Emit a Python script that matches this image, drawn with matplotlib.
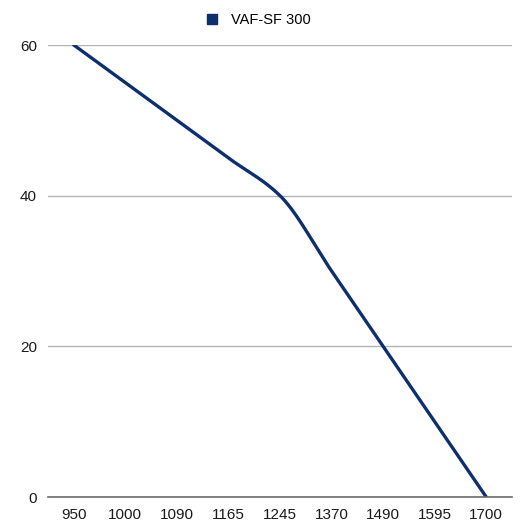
import numpy as np
import matplotlib
matplotlib.use('Agg')
import matplotlib.pyplot as plt
from matplotlib.lines import Line2D

plt.rcParams['font.family'] = ['Liberation Sans', 'DejaVu Sans']

categories = ['950', '1000', '1090', '1165', '1245', '1370', '1490', '1595', '1700']
values = [60, 55, 50, 45, 40, 30, 20, 10, 0]
series_name = 'VAF-SF 300'
yticks = [0, 20, 40, 60]

color = '#0e2f6e'


# cubic hermite curve (pchip-like slopes) just for drawing a smooth line
def smooth(x, y, n=400):
    x = np.asarray(x, float)
    y = np.asarray(y, float)
    h = np.diff(x)
    dl = np.diff(y) / h
    m = np.zeros(len(x))
    m[0] = dl[0]
    m[-1] = dl[-1]
    for i in range(1, len(x) - 1):
        if dl[i - 1] * dl[i] > 0:
            m[i] = 2 / (1 / dl[i - 1] + 1 / dl[i])
    xs = np.linspace(x[0], x[-1], n)
    ys = np.empty_like(xs)
    for j, t in enumerate(xs):
        i = min(np.searchsorted(x, t, side='right') - 1, len(x) - 2)
        s = (t - x[i]) / h[i]
        h00 = 2 * s**3 - 3 * s**2 + 1
        h10 = s**3 - 2 * s**2 + s
        h01 = -2 * s**3 + 3 * s**2
        h11 = s**3 - s**2
        ys[j] = h00 * y[i] + h10 * h[i] * m[i] + h01 * y[i + 1] + h11 * h[i] * m[i + 1]
    return xs, ys


fig = plt.figure(figsize=(5.23, 5.27), dpi=100)
ax = fig.add_axes([0.0918, 0.0569, 0.8872, 0.8577])

xi = np.arange(len(categories))
xs, ys = smooth(xi, values)
ax.plot(xs, ys, color=color, lw=2.4, solid_capstyle='round')

ax.set_xlim(-0.5, len(categories) - 0.5)
ax.set_ylim(0, 60)
ax.set_yticks(yticks)
ax.set_xticks(xi)
ax.set_xticklabels(categories)
ax.grid(axis='y', color='#b3b3b3', lw=1)
ax.set_axisbelow(True)
for s in ['top', 'right', 'left']:
    ax.spines[s].set_visible(False)
ax.spines['bottom'].set_color('#6b6b6b')
ax.spines['bottom'].set_linewidth(1.2)
ax.tick_params(length=0, labelsize=11, colors='#1a1a1a')
ax.tick_params(axis='y', pad=8)
ax.tick_params(axis='x', pad=8)

handle = Line2D([], [], marker='s', ls='none', color=color, markersize=7)
fig.legend([handle], [series_name], loc='upper center', bbox_to_anchor=(0.485, 1.0),
           frameon=False, fontsize=10.5, handletextpad=0.3)

fig.savefig('out.png', dpi=100)
